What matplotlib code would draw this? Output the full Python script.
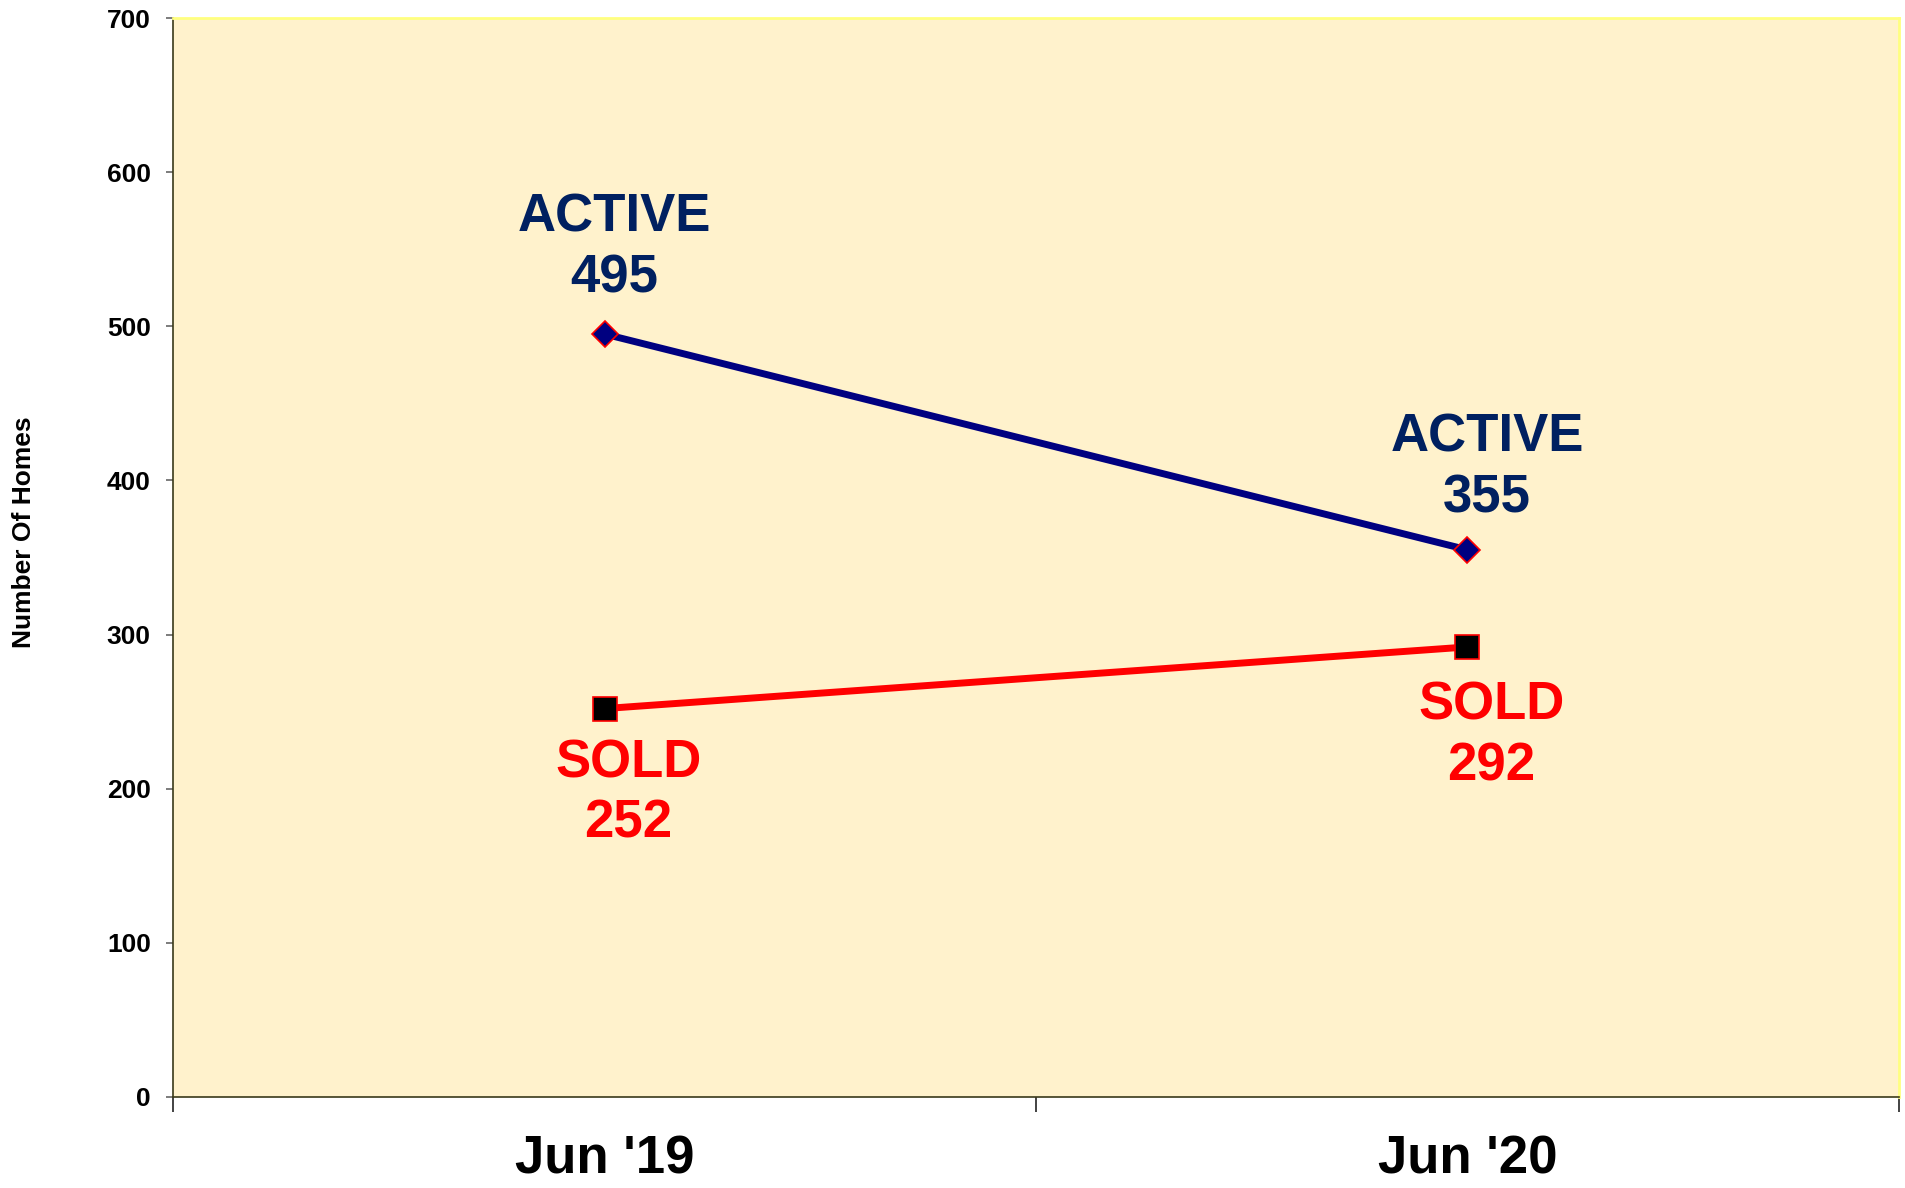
import matplotlib.pyplot as plt

months = ["Jun '19", "Jun '20"]
active = [495, 355]
sold = [252, 292]

plt.rcParams['font.family'] = ['Liberation Sans', 'DejaVu Sans']
plt.rcParams['font.weight'] = 'bold'

fig = plt.figure(figsize=(19.06, 11.88), dpi=100)
ax = fig.add_axes([0.0908, 0.0766, 0.9055, 0.9082])
ax.set_facecolor('#FFF2CC')

x = list(range(len(months)))
ax.plot(x, active, color='#000080', lw=5, marker='D', ms=13,
        mfc='#000080', mec='#FF0000', mew=1.2, zorder=3)
ax.plot(x, sold, color='#FF0000', lw=5, marker='s', ms=17,
        mfc='#000000', mec='#FF0000', mew=1.2, zorder=3)

# data labels
active_off = [(7, 62), (14, 59)]
sold_off = [(17, -61), (17, -64)]
for i in x:
    ax.annotate('ACTIVE\n%d' % active[i], (i, active[i]), xytext=active_off[i],
                textcoords='offset points', ha='center', va='center',
                fontsize=38, fontweight='bold', color='#002060', linespacing=1.27)
    ax.annotate('SOLD\n%d' % sold[i], (i, sold[i]), xytext=sold_off[i],
                textcoords='offset points', ha='center', va='center',
                fontsize=38, fontweight='bold', color='#FF0000', linespacing=1.27)

ax.set_xlim(-0.5, len(months) - 0.5)
ax.set_ylim(0, 700)
ax.set_yticks(range(0, 701, 100))
ax.tick_params(axis='y', length=5, width=1.2, color='#666666', pad=11,
               labelsize=19)

# category boundaries as major ticks, labels on minor ticks
ax.set_xticks([i - 0.5 for i in range(len(months) + 1)])
ax.set_xticklabels([])
ax.set_xticks(x, minor=True)
ax.set_xticklabels(months, minor=True)
ax.tick_params(axis='x', which='major', length=11, width=1.2, color='#222222')
ax.tick_params(axis='x', which='minor', length=0, pad=27, labelsize=38)

for s in ['top', 'right']:
    ax.spines[s].set_color('#FFFF80')
    ax.spines[s].set_linewidth(2)
for s in ['left', 'bottom']:
    ax.spines[s].set_color('#3A3A1A')
    ax.spines[s].set_linewidth(1.2)

fig.text(0.0126, 0.552, 'Number Of Homes', rotation=90, ha='center',
         va='center', fontsize=19, fontweight='bold')

fig.savefig('out.png', dpi=100)
